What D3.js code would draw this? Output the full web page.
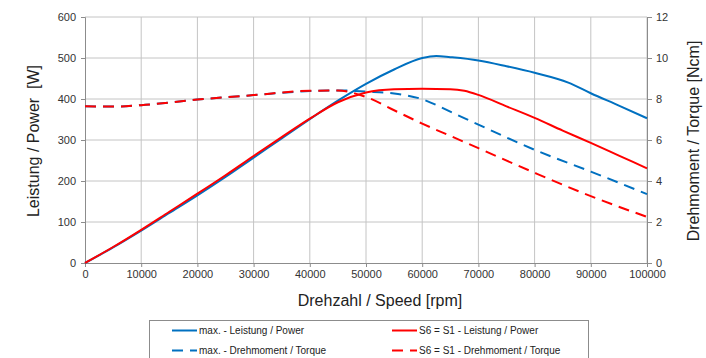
<!DOCTYPE html>
<html>
<head>
<meta charset="utf-8">
<script src="https://cdn.jsdelivr.net/npm/d3@7"></script>
<style>
  body { margin: 0; background: #fff; }
  svg { font-family: "Liberation Sans", Arial, sans-serif; }
</style>
</head>
<body>
<script>
// speed in rpm
var maxPowerSpeed = [0, 5000, 10000, 15000, 20000, 25000, 30000, 35000, 40000, 45000, 50000, 55000, 60000, 62500, 65000, 70000, 75000, 80000, 86000, 90000, 95000, 100000];
// max. power [W]
var maxPower = [0, 38, 79, 122, 165, 210, 257, 304, 351, 396, 437, 472, 500, 505, 502, 494, 480, 464, 440, 414, 384, 353];
// S6 = S1 power [W]
var s6PowerSpeed = [0, 5000, 10000, 15000, 20000, 25000, 30000, 35000, 40000, 45000, 50000, 55000, 60000, 65000, 67500, 70000, 75000, 80000, 85000, 90000, 95000, 100000];
var s6Power = [0, 39, 81, 125, 169, 214, 261, 307, 352, 392, 416, 424, 425, 424, 420, 410, 382, 354, 323, 293, 262, 231];
// torque [Ncm]
var torqueSpeed = [0, 5000, 10000, 20000, 30000, 40000, 45000, 50000, 55000, 60000, 65000, 70000, 80000, 90000, 100000];
var maxTorque = [7.65, 7.63, 7.70, 7.97, 8.19, 8.39, 8.42, 8.36, 8.27, 7.99, 7.38, 6.75, 5.52, 4.46, 3.36];
var s6Torque = [7.65, 7.63, 7.70, 7.97, 8.19, 8.40, 8.41, 8.10, 7.45, 6.80, 6.20, 5.60, 4.40, 3.26, 2.25];

var xTicks = d3.range(0, 100001, 10000);
var yTicks = d3.range(0, 601, 100);
var y2Ticks = d3.range(0, 13, 2);

var width = 706, height = 358;
var margin = {top: 17, right: 59, bottom: 95, left: 85};
var blue = "#0070c0", red = "#ff0000";

var svg = d3.select("body").append("svg")
    .attr("width", width)
    .attr("height", height);

var x = d3.scaleLinear().domain([0, 100000]).range([margin.left, width - margin.right]);
var y = d3.scaleLinear().domain([0, 600]).range([height - margin.bottom, margin.top]);
var y2 = d3.scaleLinear().domain([0, 12]).range([height - margin.bottom, margin.top]);

// grid
svg.append("g").selectAll("line")
    .data(xTicks.slice(1))
    .join("line")
    .attr("x1", d => x(d)).attr("x2", d => x(d))
    .attr("y1", y(0)).attr("y2", y(600))
    .attr("stroke", "#c4c4c4").attr("stroke-width", 1);
svg.append("g").selectAll("line")
    .data(yTicks.slice(1))
    .join("line")
    .attr("x1", x(0)).attr("x2", x(100000))
    .attr("y1", d => y(d)).attr("y2", d => y(d))
    .attr("stroke", "#c4c4c4").attr("stroke-width", 1);

// axes
var xAxis = svg.append("g")
    .attr("transform", `translate(0,${y(0)})`)
    .call(d3.axisBottom(x).tickValues(xTicks).tickFormat(d3.format("d")).tickSizeOuter(0).tickSize(4).tickPadding(3));
var yAxis = svg.append("g")
    .attr("transform", `translate(${x(0)},0)`)
    .call(d3.axisLeft(y).tickValues(yTicks).tickSizeOuter(0).tickSize(4).tickPadding(5));
var y2Axis = svg.append("g")
    .attr("transform", `translate(${x(100000)},0)`)
    .call(d3.axisRight(y2).tickValues(y2Ticks).tickSizeOuter(0).tickSize(5).tickPadding(4));

[xAxis, yAxis, y2Axis].forEach(function(a) {
    a.selectAll("path, line").attr("stroke", "#8c8c8c");
    a.selectAll("text").attr("fill", "#333").style("font-size", "11px");
});

// curves
var line = d3.line().curve(d3.curveMonotoneX);
function drawCurve(xs, ys, scale, color, dashed) {
    svg.append("path")
        .attr("d", line(xs.map((s, i) => [x(s), scale(ys[i])])))
        .attr("fill", "none")
        .attr("stroke", color)
        .attr("stroke-width", 2)
        .attr("stroke-dasharray", dashed ? "11,7" : null);
}
drawCurve(torqueSpeed, maxTorque, y2, blue, true);
drawCurve(torqueSpeed, s6Torque, y2, red, true);
drawCurve(maxPowerSpeed, maxPower, y, blue, false);
drawCurve(s6PowerSpeed, s6Power, y, red, false);

// titles
svg.append("text")
    .attr("x", 380).attr("y", 306)
    .attr("text-anchor", "middle")
    .style("font-size", "16px").attr("fill", "#222")
    .text("Drehzahl / Speed [rpm]");
svg.append("text")
    .attr("transform", `translate(39,141) rotate(-90)`)
    .attr("text-anchor", "middle")
    .style("font-size", "16px").attr("fill", "#222")
    .attr("xml:space", "preserve")
    .text("Leistung / Power  [W]");
svg.append("text")
    .attr("transform", `translate(699,141) rotate(-90)`)
    .attr("text-anchor", "middle")
    .style("font-size", "16px").attr("fill", "#222")
    .text("Drehmoment / Torque [Ncm]");

// legend
var legendItems = [
    {label: "max. - Leistung / Power", color: blue, dashed: false, col: 0, row: 0},
    {label: "S6 = S1 - Leistung / Power", color: red, dashed: false, col: 1, row: 0},
    {label: "max. - Drehmoment / Torque", color: blue, dashed: true, col: 0, row: 1},
    {label: "S6 = S1 - Drehmoment / Torque", color: red, dashed: true, col: 1, row: 1}
];
svg.append("rect")
    .attr("x", 149.5).attr("y", 320.5)
    .attr("width", 439).attr("height", 60)
    .attr("fill", "#fff").attr("stroke", "#8c8c8c");
var lg = svg.append("g").selectAll("g")
    .data(legendItems)
    .join("g")
    .attr("transform", d => `translate(${d.col ? 392 : 172},${d.row ? 350.5 : 330.5})`);
lg.append("line")
    .attr("x1", 0).attr("x2", 25)
    .attr("stroke", d => d.color).attr("stroke-width", 2)
    .attr("stroke-dasharray", d => d.dashed ? "11,7" : null);
lg.append("text")
    .attr("x", 27).attr("dy", "0.35em")
    .style("font-size", "10px").attr("fill", "#222")
    .text(d => d.label);
</script>
</body>
</html>
